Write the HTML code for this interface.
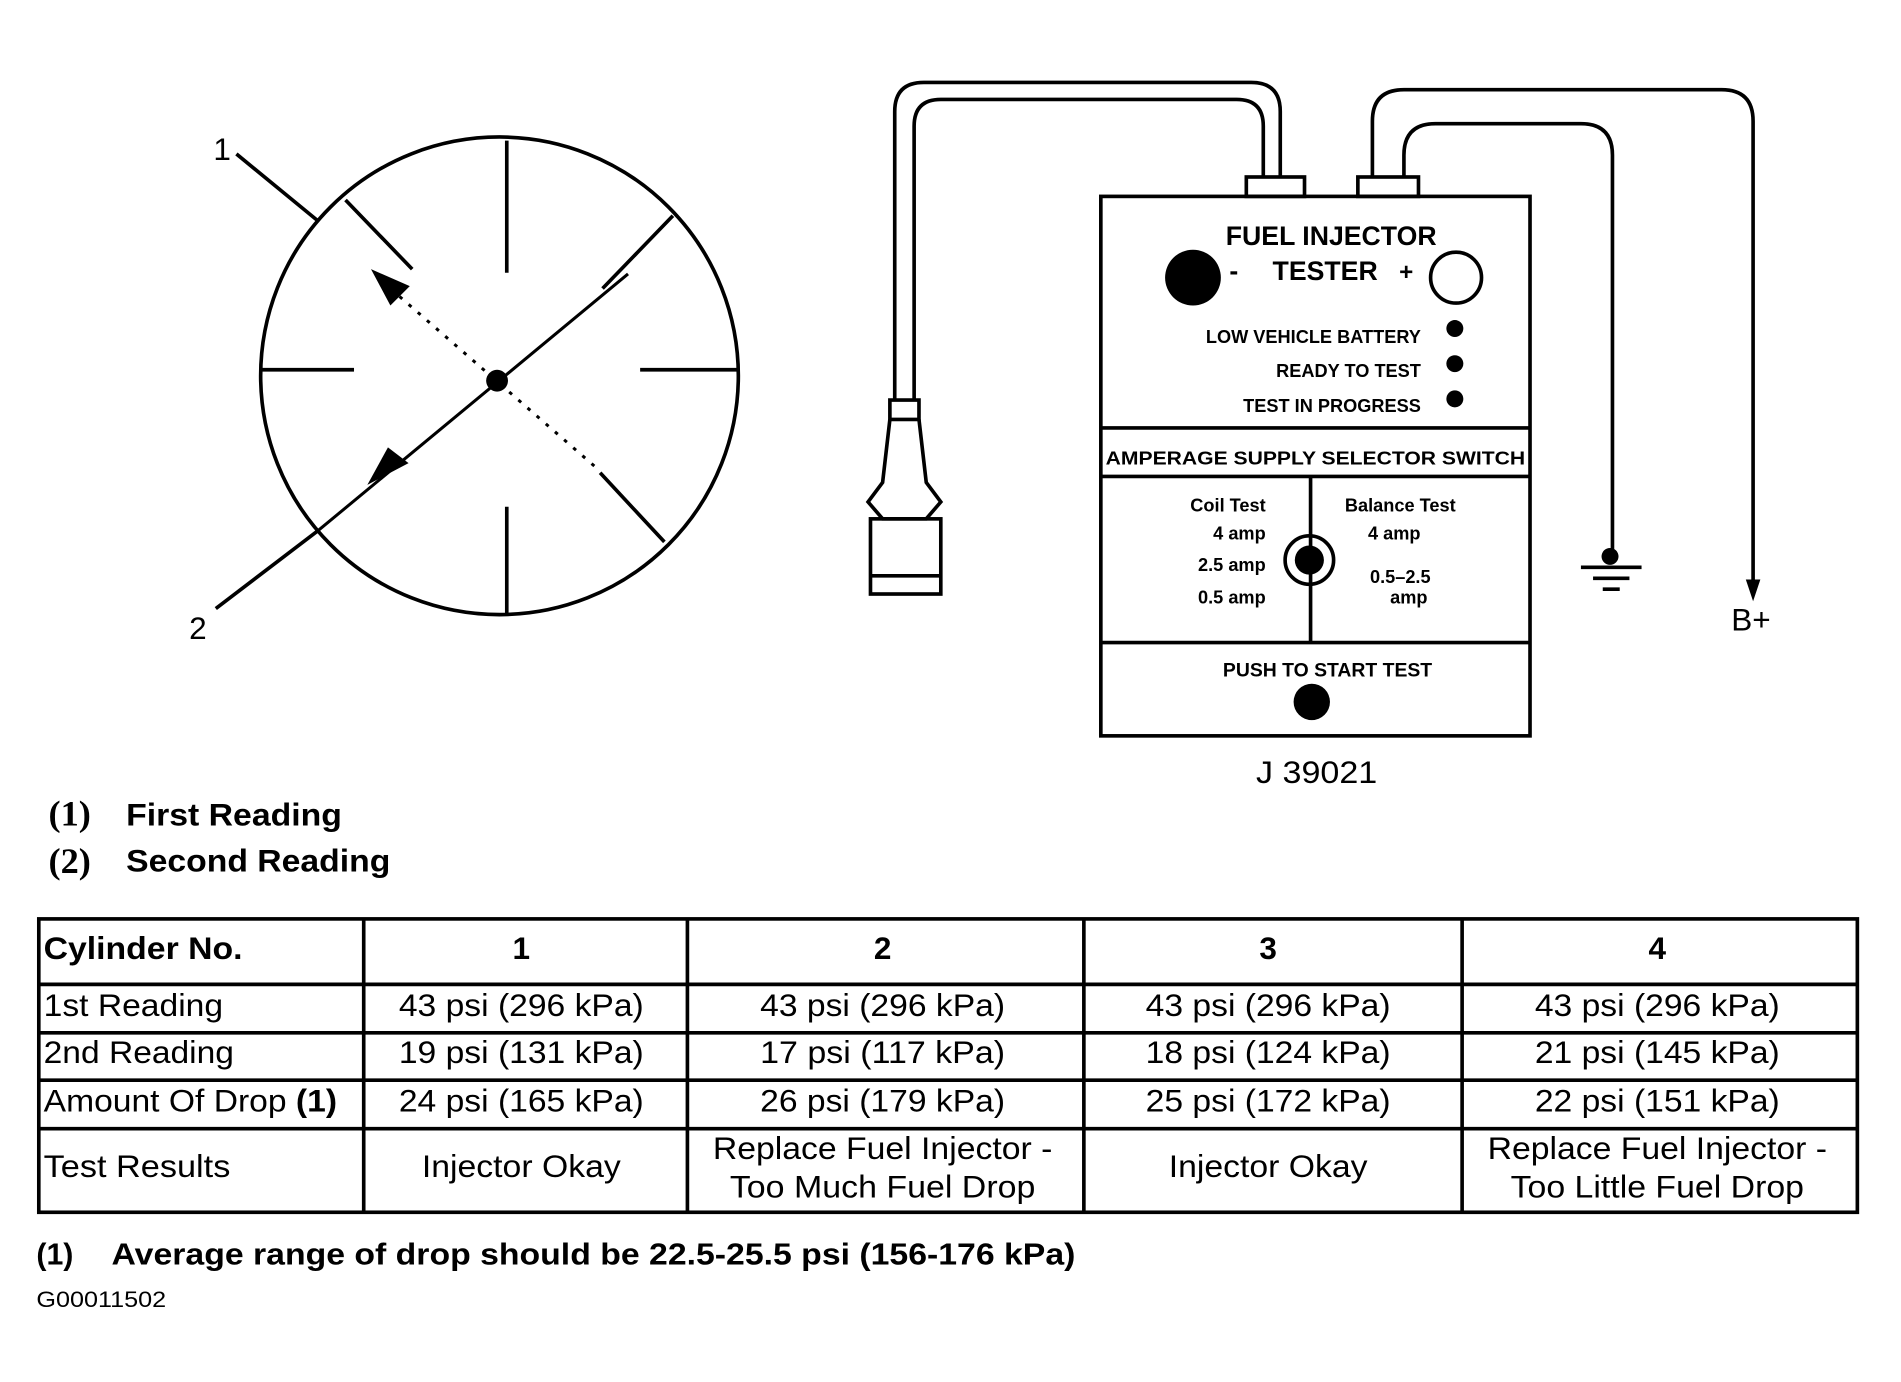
<!DOCTYPE html>
<html><head><style>
html,body{margin:0;padding:0;background:#fff;}
svg{display:block;}
text{font-family:"Liberation Sans",sans-serif;fill:#000;}
.b{font-weight:bold;}
</style></head><body>
<svg width="1901" height="1382" viewBox="0 0 1568 1140" preserveAspectRatio="none" xmlns="http://www.w3.org/2000/svg">
<rect width="1568" height="1140" fill="#fff"/>
<g stroke="#000" stroke-width="3" fill="none">
<circle cx="412" cy="310" r="197"/>
<line x1="418" y1="116" x2="418" y2="225"/>
<line x1="418" y1="418" x2="418" y2="506"/>
<line x1="216" y1="305" x2="292" y2="305"/>
<line x1="528" y1="305" x2="608" y2="305"/>
<line x1="285" y1="165" x2="340" y2="222"/>
<line x1="555" y1="178" x2="497" y2="238"/>
<line x1="495" y1="390" x2="548" y2="447"/>
<line x1="195" y1="127" x2="262" y2="182"/>
<line x1="178" y1="502" x2="262" y2="438"/>
<line x1="262" y1="438" x2="518" y2="226" stroke-width="2.5"/>
<line x1="322" y1="238" x2="492" y2="386" stroke-width="2.5" stroke-dasharray="3 7"/>
</g>
<circle cx="410" cy="314" r="9" fill="#000"/>
<polygon points="303,400 337,382 320,369" fill="#000"/>
<polygon points="306,222 338,236 322,252" fill="#000"/>
<text x="176" y="132" font-size="26">1</text>
<text x="156" y="527" font-size="26">2</text>

<g stroke="#000" stroke-width="3" fill="none">
<path d="M738 330 V92 Q738 68 762 68 H1032 Q1056 68 1056 92 V146"/>
<path d="M754 330 V104 Q754 82 776 82 H1020 Q1042 82 1042 104 V146"/>
<path d="M1132 146 V100 Q1132 74 1158 74 H1420 Q1446 74 1446 100 V480"/>
<path d="M1158 146 V128 Q1158 102 1184 102 H1304 Q1330 102 1330 128 V456"/>
<rect x="1028" y="146" width="48" height="16"/>
<rect x="1120" y="146" width="50" height="16"/>
<rect x="908" y="162" width="354" height="445"/>
<line x1="908" y1="353" x2="1262" y2="353"/>
<line x1="908" y1="393" x2="1262" y2="393"/>
<line x1="908" y1="530" x2="1262" y2="530"/>
<line x1="1081" y1="393" x2="1081" y2="530"/>
<circle cx="1201" cy="229" r="21"/>
<circle cx="1080" cy="462" r="20"/>
<line x1="1304" y1="468" x2="1354" y2="468"/>
<line x1="1314" y1="477" x2="1344" y2="477"/>
<line x1="1322" y1="486" x2="1336" y2="486"/>
<rect x="734" y="330" width="24" height="16"/>
<path d="M734 346 L728 398 L716 414 L728 428 H764 L776 414 L764 398 L758 346"/>
<rect x="718" y="428" width="58" height="62"/>
<line x1="718" y1="475" x2="776" y2="475"/>
</g>
<polygon points="1440,478 1452,478 1446,496" fill="#000"/>
<circle cx="1328" cy="459" r="7" fill="#000"/>
<circle cx="984" cy="229" r="23" fill="#000"/>
<circle cx="1080" cy="462" r="12" fill="#000"/>
<circle cx="1200" cy="271" r="7" fill="#000"/>
<circle cx="1200" cy="300" r="7" fill="#000"/>
<circle cx="1200" cy="329" r="7" fill="#000"/>
<circle cx="1082" cy="579" r="15" fill="#000"/>
<g class="b">
<text x="1098" y="202" font-size="22" text-anchor="middle" class="b">FUEL INJECTOR</text>
<text x="1093" y="231" font-size="22" text-anchor="middle" class="b">TESTER</text>
<text x="1014" y="231" font-size="22" class="b">-</text>
<text x="1154" y="231" font-size="20" class="b">+</text>
<text x="1172" y="283" font-size="15" text-anchor="end" class="b">LOW VEHICLE BATTERY</text>
<text x="1172" y="311" font-size="15" text-anchor="end" class="b">READY TO TEST</text>
<text x="1172" y="340" font-size="15" text-anchor="end" class="b">TEST IN PROGRESS</text>
<text x="912" y="383" font-size="15.5" textLength="346" lengthAdjust="spacingAndGlyphs" class="b">AMPERAGE SUPPLY SELECTOR SWITCH</text>
<text x="1044" y="422" font-size="15" text-anchor="end" class="b">Coil Test</text>
<text x="1044" y="445" font-size="15" text-anchor="end" class="b">4 amp</text>
<text x="1044" y="471" font-size="15" text-anchor="end" class="b">2.5 amp</text>
<text x="1044" y="498" font-size="15" text-anchor="end" class="b">0.5 amp</text>
<text x="1155" y="422" font-size="15" text-anchor="middle" class="b">Balance Test</text>
<text x="1150" y="445" font-size="15" text-anchor="middle" class="b">4 amp</text>
<text x="1155" y="481" font-size="15" text-anchor="middle" class="b">0.5–2.5</text>
<text x="1162" y="498" font-size="15" text-anchor="middle" class="b">amp</text>
<text x="1095" y="558" font-size="16" text-anchor="middle" class="b">PUSH TO START TEST</text>
</g>
<text x="1036" y="646" font-size="26" textLength="100" lengthAdjust="spacingAndGlyphs">J 39021</text>
<text x="1428" y="520" font-size="26">B+</text>

<text x="40" y="681" font-size="30" style="font-family:'Liberation Serif',serif" class="b">(1)</text>
<text x="40" y="720" font-size="30" style="font-family:'Liberation Serif',serif" class="b">(2)</text>
<text x="104" y="681" font-size="26" textLength="178" lengthAdjust="spacingAndGlyphs" class="b">First Reading</text>
<text x="104" y="719" font-size="26" textLength="218" lengthAdjust="spacingAndGlyphs" class="b">Second Reading</text>

<g stroke="#000" stroke-width="3" fill="none">
<rect x="32" y="758" width="1500" height="242"/>
<line x1="32" y1="812" x2="1532" y2="812"/>
<line x1="32" y1="852" x2="1532" y2="852"/>
<line x1="32" y1="891" x2="1532" y2="891"/>
<line x1="32" y1="931" x2="1532" y2="931"/>
<line x1="300" y1="758" x2="300" y2="1000"/>
<line x1="567" y1="758" x2="567" y2="1000"/>
<line x1="894" y1="758" x2="894" y2="1000"/>
<line x1="1206" y1="758" x2="1206" y2="1000"/>
</g>
<g font-size="26">
<text x="36" y="791" textLength="164" lengthAdjust="spacingAndGlyphs" class="b">Cylinder No.</text>
<text x="430" y="791" text-anchor="middle" class="b">1</text>
<text x="728" y="791" text-anchor="middle" class="b">2</text>
<text x="1046" y="791" text-anchor="middle" class="b">3</text>
<text x="1367" y="791" text-anchor="middle" class="b">4</text>
<text x="36" y="838" textLength="148" lengthAdjust="spacingAndGlyphs">1st Reading</text>
<text x="36" y="877" textLength="157" lengthAdjust="spacingAndGlyphs">2nd Reading</text>
<text x="36" y="917" textLength="242" lengthAdjust="spacingAndGlyphs">Amount Of Drop <tspan class="b">(1)</tspan></text>
<text x="36" y="971" textLength="154" lengthAdjust="spacingAndGlyphs">Test Results</text>
<g text-anchor="middle">
<text x="430" y="838" textLength="202" lengthAdjust="spacingAndGlyphs">43 psi (296 kPa)</text><text x="728" y="838" textLength="202" lengthAdjust="spacingAndGlyphs">43 psi (296 kPa)</text><text x="1046" y="838" textLength="202" lengthAdjust="spacingAndGlyphs">43 psi (296 kPa)</text><text x="1367" y="838" textLength="202" lengthAdjust="spacingAndGlyphs">43 psi (296 kPa)</text>
<text x="430" y="877" textLength="202" lengthAdjust="spacingAndGlyphs">19 psi (131 kPa)</text><text x="728" y="877" textLength="202" lengthAdjust="spacingAndGlyphs">17 psi (117 kPa)</text><text x="1046" y="877" textLength="202" lengthAdjust="spacingAndGlyphs">18 psi (124 kPa)</text><text x="1367" y="877" textLength="202" lengthAdjust="spacingAndGlyphs">21 psi (145 kPa)</text>
<text x="430" y="917" textLength="202" lengthAdjust="spacingAndGlyphs">24 psi (165 kPa)</text><text x="728" y="917" textLength="202" lengthAdjust="spacingAndGlyphs">26 psi (179 kPa)</text><text x="1046" y="917" textLength="202" lengthAdjust="spacingAndGlyphs">25 psi (172 kPa)</text><text x="1367" y="917" textLength="202" lengthAdjust="spacingAndGlyphs">22 psi (151 kPa)</text>
<text x="430" y="971" textLength="164" lengthAdjust="spacingAndGlyphs">Injector Okay</text>
<text x="728" y="956" textLength="280" lengthAdjust="spacingAndGlyphs">Replace Fuel Injector -</text><text x="728" y="988" textLength="252" lengthAdjust="spacingAndGlyphs">Too Much Fuel Drop</text>
<text x="1046" y="971" textLength="164" lengthAdjust="spacingAndGlyphs">Injector Okay</text>
<text x="1367" y="956" textLength="280" lengthAdjust="spacingAndGlyphs">Replace Fuel Injector -</text><text x="1367" y="988" textLength="242" lengthAdjust="spacingAndGlyphs">Too Little Fuel Drop</text>
</g>
</g>
<text x="30" y="1043" font-size="25" class="b">(1)</text>
<text x="92" y="1043" font-size="25" textLength="795" lengthAdjust="spacingAndGlyphs" class="b">Average range of drop should be 22.5-25.5 psi (156-176 kPa)</text>
<text x="30" y="1078" font-size="18" textLength="107" lengthAdjust="spacingAndGlyphs">G00011502</text>
</svg>
</body></html>
